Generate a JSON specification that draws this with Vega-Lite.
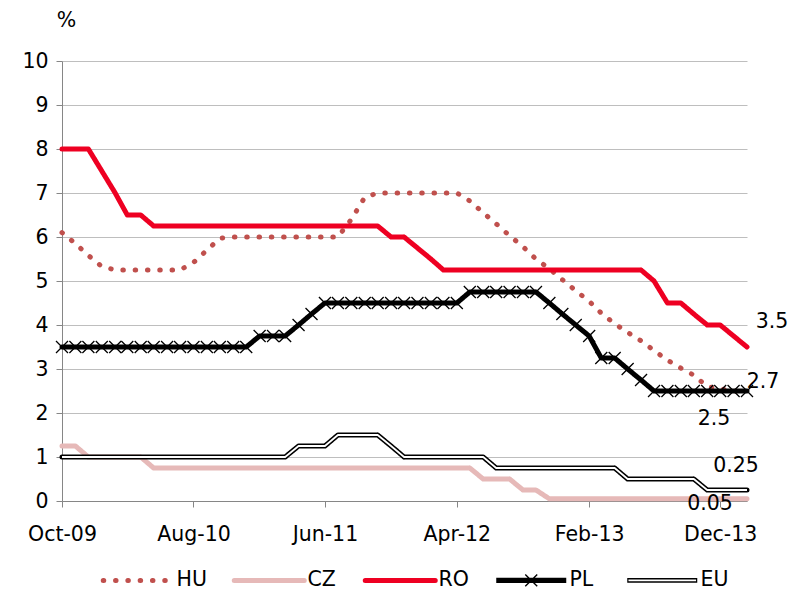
{
  "$schema": "https://vega.github.io/schema/vega-lite/v6.json",
  "width": 685,
  "height": 440,
  "autosize": {"type": "none"},
  "padding": {"left": 62, "top": 61, "right": 45, "bottom": 96},
  "background": "white",
  "config": {"font": "DejaVu Sans", "view": {"stroke": null}},
  "datasets": {
    "rates": [
      {"m": "2009-10-01", "HU": 6.1, "CZ": 1.25, "RO": 8, "PL": 3.5, "EU": 1},
      {"m": "2009-11-01", "HU": 5.85, "CZ": 1.25, "RO": 8, "PL": 3.5, "EU": 1},
      {"m": "2009-12-01", "HU": 5.58, "CZ": 1, "RO": 8, "PL": 3.5, "EU": 1},
      {"m": "2010-01-01", "HU": 5.33, "CZ": 1, "RO": 7.5, "PL": 3.5, "EU": 1},
      {"m": "2010-02-01", "HU": 5.25, "CZ": 1, "RO": 7, "PL": 3.5, "EU": 1},
      {"m": "2010-03-01", "HU": 5.25, "CZ": 1, "RO": 6.5, "PL": 3.5, "EU": 1},
      {"m": "2010-04-01", "HU": 5.25, "CZ": 1, "RO": 6.5, "PL": 3.5, "EU": 1},
      {"m": "2010-05-01", "HU": 5.25, "CZ": 0.75, "RO": 6.25, "PL": 3.5, "EU": 1},
      {"m": "2010-06-01", "HU": 5.25, "CZ": 0.75, "RO": 6.25, "PL": 3.5, "EU": 1},
      {"m": "2010-07-01", "HU": 5.25, "CZ": 0.75, "RO": 6.25, "PL": 3.5, "EU": 1},
      {"m": "2010-08-01", "HU": 5.42, "CZ": 0.75, "RO": 6.25, "PL": 3.5, "EU": 1},
      {"m": "2010-09-01", "HU": 5.7, "CZ": 0.75, "RO": 6.25, "PL": 3.5, "EU": 1},
      {"m": "2010-10-01", "HU": 5.97, "CZ": 0.75, "RO": 6.25, "PL": 3.5, "EU": 1},
      {"m": "2010-11-01", "HU": 6, "CZ": 0.75, "RO": 6.25, "PL": 3.5, "EU": 1},
      {"m": "2010-12-01", "HU": 6, "CZ": 0.75, "RO": 6.25, "PL": 3.5, "EU": 1},
      {"m": "2011-01-01", "HU": 6, "CZ": 0.75, "RO": 6.25, "PL": 3.75, "EU": 1},
      {"m": "2011-02-01", "HU": 6, "CZ": 0.75, "RO": 6.25, "PL": 3.75, "EU": 1},
      {"m": "2011-03-01", "HU": 6, "CZ": 0.75, "RO": 6.25, "PL": 3.75, "EU": 1},
      {"m": "2011-04-01", "HU": 6, "CZ": 0.75, "RO": 6.25, "PL": 4, "EU": 1.25},
      {"m": "2011-05-01", "HU": 6, "CZ": 0.75, "RO": 6.25, "PL": 4.25, "EU": 1.25},
      {"m": "2011-06-01", "HU": 6, "CZ": 0.75, "RO": 6.25, "PL": 4.5, "EU": 1.25},
      {"m": "2011-07-01", "HU": 6, "CZ": 0.75, "RO": 6.25, "PL": 4.5, "EU": 1.5},
      {"m": "2011-08-01", "HU": 6.4, "CZ": 0.75, "RO": 6.25, "PL": 4.5, "EU": 1.5},
      {"m": "2011-09-01", "HU": 6.9, "CZ": 0.75, "RO": 6.25, "PL": 4.5, "EU": 1.5},
      {"m": "2011-10-01", "HU": 7, "CZ": 0.75, "RO": 6.25, "PL": 4.5, "EU": 1.5},
      {"m": "2011-11-01", "HU": 7, "CZ": 0.75, "RO": 6, "PL": 4.5, "EU": 1.25},
      {"m": "2011-12-01", "HU": 7, "CZ": 0.75, "RO": 6, "PL": 4.5, "EU": 1},
      {"m": "2012-01-01", "HU": 7, "CZ": 0.75, "RO": 5.75, "PL": 4.5, "EU": 1},
      {"m": "2012-02-01", "HU": 7, "CZ": 0.75, "RO": 5.5, "PL": 4.5, "EU": 1},
      {"m": "2012-03-01", "HU": 7, "CZ": 0.75, "RO": 5.25, "PL": 4.5, "EU": 1},
      {"m": "2012-04-01", "HU": 7, "CZ": 0.75, "RO": 5.25, "PL": 4.5, "EU": 1},
      {"m": "2012-05-01", "HU": 6.82, "CZ": 0.75, "RO": 5.25, "PL": 4.75, "EU": 1},
      {"m": "2012-06-01", "HU": 6.55, "CZ": 0.5, "RO": 5.25, "PL": 4.75, "EU": 1},
      {"m": "2012-07-01", "HU": 6.3, "CZ": 0.5, "RO": 5.25, "PL": 4.75, "EU": 0.75},
      {"m": "2012-08-01", "HU": 6.03, "CZ": 0.5, "RO": 5.25, "PL": 4.75, "EU": 0.75},
      {"m": "2012-09-01", "HU": 5.78, "CZ": 0.25, "RO": 5.25, "PL": 4.75, "EU": 0.75},
      {"m": "2012-10-01", "HU": 5.5, "CZ": 0.25, "RO": 5.25, "PL": 4.75, "EU": 0.75},
      {"m": "2012-11-01", "HU": 5.28, "CZ": 0.05, "RO": 5.25, "PL": 4.5, "EU": 0.75},
      {"m": "2012-12-01", "HU": 5.03, "CZ": 0.05, "RO": 5.25, "PL": 4.25, "EU": 0.75},
      {"m": "2013-01-01", "HU": 4.78, "CZ": 0.05, "RO": 5.25, "PL": 4, "EU": 0.75},
      {"m": "2013-02-01", "HU": 4.54, "CZ": 0.05, "RO": 5.25, "PL": 3.75, "EU": 0.75},
      {"m": "2013-03-01", "HU": 4.27, "CZ": 0.05, "RO": 5.25, "PL": 3.25, "EU": 0.75},
      {"m": "2013-04-01", "HU": 4.03, "CZ": 0.05, "RO": 5.25, "PL": 3.25, "EU": 0.75},
      {"m": "2013-05-01", "HU": 3.83, "CZ": 0.05, "RO": 5.25, "PL": 3, "EU": 0.5},
      {"m": "2013-06-01", "HU": 3.64, "CZ": 0.05, "RO": 5.25, "PL": 2.75, "EU": 0.5},
      {"m": "2013-07-01", "HU": 3.42, "CZ": 0.05, "RO": 5, "PL": 2.5, "EU": 0.5},
      {"m": "2013-08-01", "HU": 3.2, "CZ": 0.05, "RO": 4.5, "PL": 2.5, "EU": 0.5},
      {"m": "2013-09-01", "HU": 3.02, "CZ": 0.05, "RO": 4.5, "PL": 2.5, "EU": 0.5},
      {"m": "2013-10-01", "HU": 2.86, "CZ": 0.05, "RO": 4.25, "PL": 2.5, "EU": 0.5},
      {"m": "2013-11-01", "HU": 2.6, "CZ": 0.05, "RO": 4, "PL": 2.5, "EU": 0.25},
      {"m": "2013-12-01", "HU": 2.55, "CZ": 0.05, "RO": 4, "PL": 2.5, "EU": 0.25},
      {"m": "2014-01-01", "HU": 2.5, "CZ": 0.05, "RO": 3.75, "PL": 2.5, "EU": 0.25},
      {"m": "2014-02-01", "HU": 2.5, "CZ": 0.05, "RO": 3.5, "PL": 2.5, "EU": 0.25}
    ],
    "ends": [
      {"series": "RO", "m": "2014-02-01", "value": 3.5},
      {"series": "HU", "m": "2014-02-01", "value": 2.7},
      {"series": "PL", "m": "2014-02-01", "value": 2.5},
      {"series": "EU", "m": "2014-02-01", "value": 0.25},
      {"series": "CZ", "m": "2014-02-01", "value": 0.05}
    ]
  },
  "encoding": {
    "x": {
      "field": "m",
      "type": "temporal",
      "scale": {
        "type": "utc",
        "nice": false,
        "domain": [
          {"year": 2009, "month": 10, "date": 1, "utc": true},
          {"year": 2014, "month": 2, "date": 1, "utc": true}
        ]
      },
      "axis": {
        "title": null,
        "grid": false,
        "values": [
          {"year": 2009, "month": 10, "date": 1, "utc": true},
          {"year": 2010, "month": 8, "date": 1, "utc": true},
          {"year": 2011, "month": 6, "date": 1, "utc": true},
          {"year": 2012, "month": 4, "date": 1, "utc": true},
          {"year": 2013, "month": 2, "date": 1, "utc": true},
          {"year": 2013, "month": 12, "date": 1, "utc": true}
        ],
        "labelExpr": "utcFormat(datum.value, '%b-%y')",
        "domainColor": "#868686",
        "tickColor": "#868686",
        "tickSize": 6,
        "labelFontSize": 20.5,
        "labelColor": "black",
        "labelPadding": 17,
        "labelFlush": false,
        "labelOverlap": false
      }
    },
    "y": {
      "field": "value",
      "type": "quantitative",
      "scale": {"domain": [0, 10], "nice": false},
      "axis": {
        "values": [0, 1, 2, 3, 4, 5, 6, 7, 8, 9, 10],
        "title": "%",
        "titleAngle": 0,
        "titleX": 4,
        "titleY": -41,
        "titleAlign": "center",
        "titleBaseline": "middle",
        "titleFontSize": 20.5,
        "titleFontWeight": "normal",
        "titleColor": "black",
        "grid": true,
        "gridColor": "#BEBEBE",
        "domainColor": "#868686",
        "tickColor": "#868686",
        "tickSize": 6,
        "labelFontSize": 20.5,
        "labelColor": "black",
        "labelPadding": 8
      }
    }
  },
  "layer": [
    {
      "data": {"name": "rates"},
      "transform": [{"fold": ["HU", "CZ", "RO", "PL", "EU"], "as": ["series", "value"]}],
      "mark": {"type": "line", "strokeWidth": 5, "strokeCap": "round", "strokeJoin": "round"},
      "encoding": {
        "color": {
          "field": "series",
          "type": "nominal",
          "scale": {"domain": ["HU", "CZ", "RO", "PL", "EU"], "range": ["#C0504D", "#E6B9B8", "#EE0022", "#000000", "#000000"]},
          "legend": {
            "title": null,
            "orient": "none",
            "legendX": 66,
            "legendY": 509,
            "direction": "horizontal",
            "columns": 5,
            "gridAlign": "all",
            "symbolType": "stroke",
            "symbolSize": 4900,
            "symbolStrokeWidth": 5,
            "labelFontSize": 20.5,
            "labelColor": "black",
            "labelOffset": 28,
            "columnPadding": 17,
            "encode": {
              "symbols": {
                "update": {
                  "shape": {"signal": "datum.value === 'PL' ? 'M-1,-0.075L1,-0.075L1,0.075L-1,0.075Z M-0.185,-0.157L-0.157,-0.185L0.185,0.157L0.157,0.185Z M-0.185,0.157L0.157,-0.185L0.185,-0.157L-0.157,0.185Z' : datum.value === 'EU' ? 'M-1,-0.066L1,-0.066L1,0.066L-1,0.066Z M-0.965,-0.024L-0.965,0.024L0.965,0.024L0.965,-0.024Z' : 'stroke'"},
                  "fill": {"signal": "datum.value === 'PL' || datum.value === 'EU' ? 'black' : 'transparent'"},
                  "strokeWidth": {"signal": "datum.value === 'PL' || datum.value === 'EU' ? 0 : 5"},
                  "strokeCap": {"value": "round"}
                }
              }
            }
          }
        },
        "strokeDash": {
          "field": "series",
          "type": "nominal",
          "scale": {"domain": ["HU", "CZ", "RO", "PL", "EU"], "range": [[0.5, 11.8], [1, 0], [1, 0], [1, 0], [1, 0]]},
          "legend": {
            "title": null,
            "orient": "none",
            "legendX": 66,
            "legendY": 509,
            "direction": "horizontal"
          }
        }
      }
    },
    {
      "data": {"name": "rates"},
      "transform": [{"fold": ["EU"], "as": ["series", "value"]}],
      "mark": {"type": "line", "strokeWidth": 1.8, "color": "white", "strokeJoin": "round"},
      "encoding": {}
    },
    {
      "data": {"name": "rates"},
      "transform": [{"fold": ["PL"], "as": ["series", "value"]}],
      "mark": {"type": "point", "shape": "M-1,-1L1,1M-1,1L1,-1", "size": 144, "filled": false, "color": "black", "strokeWidth": 1.3, "opacity": 1},
      "encoding": {}
    },
    {
      "data": {"name": "ends"},
      "transform": [{"filter": {"field": "series", "equal": "RO"}}],
      "mark": {"type": "text", "fontSize": 20.5, "align": "center", "baseline": "middle", "color": "black", "dx": 25, "dy": -25},
      "encoding": {"text": {"field": "value", "type": "quantitative"}}
    },
    {
      "data": {"name": "ends"},
      "transform": [{"filter": {"field": "series", "equal": "HU"}}],
      "mark": {"type": "text", "fontSize": 20.5, "align": "center", "baseline": "middle", "color": "black", "dx": 16, "dy": 0},
      "encoding": {"text": {"field": "value", "type": "quantitative"}}
    },
    {
      "data": {"name": "ends"},
      "transform": [{"filter": {"field": "series", "equal": "PL"}}],
      "mark": {"type": "text", "fontSize": 20.5, "align": "center", "baseline": "middle", "color": "black", "dx": -33, "dy": 28},
      "encoding": {"text": {"field": "value", "type": "quantitative"}}
    },
    {
      "data": {"name": "ends"},
      "transform": [{"filter": {"field": "series", "equal": "EU"}}],
      "mark": {"type": "text", "fontSize": 20.5, "align": "center", "baseline": "middle", "color": "black", "dx": -11, "dy": -24},
      "encoding": {"text": {"field": "value", "type": "quantitative"}}
    },
    {
      "data": {"name": "ends"},
      "transform": [{"filter": {"field": "series", "equal": "CZ"}}],
      "mark": {"type": "text", "fontSize": 20.5, "align": "center", "baseline": "middle", "color": "black", "dx": -37, "dy": 5},
      "encoding": {"text": {"field": "value", "type": "quantitative"}}
    }
  ]
}
